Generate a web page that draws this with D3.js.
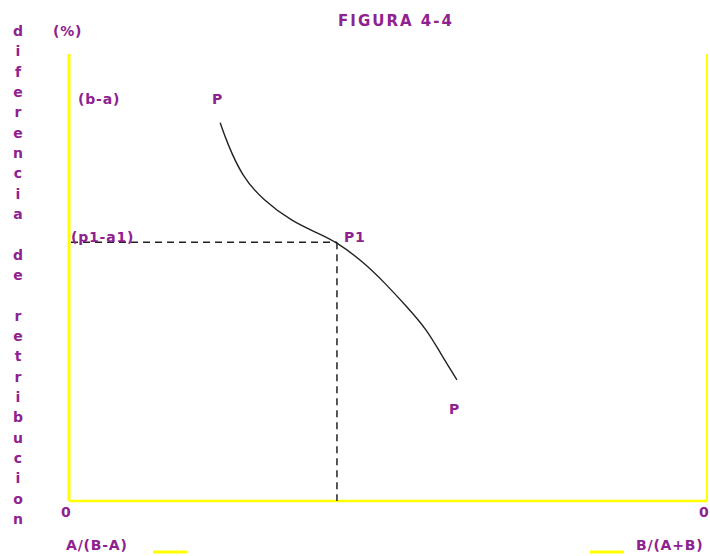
<!DOCTYPE html>
<html>
<head>
<meta charset="utf-8">
<script src="https://cdn.jsdelivr.net/npm/d3@7"></script>
<style>
  body { margin: 0; background: #fff; }
  text { font-family: "DejaVu Sans", sans-serif; fill: #8e2290; font-weight: bold; }
</style>
</head>
<body>
<script>
// Constants.
const titleText = 'FIGURA 4-4';
const yAxisWord = 'diferencia de retribucion';
const width = 710;
const height = 556;
const margin = {top: 54, left: 69, bottom: 55, right: 3};

// curve P-P (x and y in 0..100 units of the frame)
const curveX = [23.7, 24.8, 27.1, 30.4, 35.1, 38.9, 42.0, 46.1, 49.5, 53.0, 56.1, 58.2, 60.8];
const curveY = [84.6, 80.1, 72.7, 67.3, 62.4, 60.0, 57.9, 53.5, 48.8, 43.4, 38.3, 33.1, 27.1];
const p1 = [42.0, 57.9];

const svg = d3.select('body')
  .append('svg')
  .attr('width', width)
  .attr('height', height);

// Scales
const xScale = d3.scaleLinear()
  .domain([0, 100])
  .range([margin.left, width - margin.right]);
const yScale = d3.scaleLinear()
  .domain([0, 100])
  .range([height - margin.bottom, margin.top]);

// Title
svg.append('text')
  .attr('x', 396)
  .attr('y', 26)
  .attr('text-anchor', 'middle')
  .attr('font-size', '15px')
  .attr('letter-spacing', '2px')
  .text(titleText);

// vertical letters on the left
const letters = yAxisWord.split('');
svg.append('g')
  .selectAll('text')
  .data(letters)
  .enter()
  .append('text')
  .attr('x', 18)
  .attr('y', (d, i) => 32 + i * 20.33)
  .attr('text-anchor', 'middle')
  .attr('dominant-baseline', 'middle')
  .attr('font-size', '14px')
  .text(d => d);

// frame lines
svg.append('line')
  .attr('x1', xScale(0)).attr('x2', xScale(0))
  .attr('y1', yScale(100)).attr('y2', yScale(0))
  .style('stroke', '#ffff00').style('stroke-width', 3);
svg.append('line')
  .attr('x1', xScale(0)).attr('x2', xScale(100))
  .attr('y1', yScale(0)).attr('y2', yScale(0))
  .style('stroke', '#ffff00').style('stroke-width', 2.5);
svg.append('line')
  .attr('x1', xScale(100)).attr('x2', xScale(100))
  .attr('y1', yScale(100)).attr('y2', yScale(0))
  .style('stroke', '#ffff00').style('stroke-width', 2);

// dashed guides to P1
svg.append('line')
  .attr('x1', xScale(0) + 2).attr('x2', xScale(p1[0]))
  .attr('y1', yScale(p1[1])).attr('y2', yScale(p1[1]))
  .style('stroke', '#222').style('stroke-width', 1.5)
  .style('stroke-dasharray', '7,5');
svg.append('line')
  .attr('x1', xScale(p1[0])).attr('x2', xScale(p1[0]))
  .attr('y1', yScale(p1[1])).attr('y2', yScale(0))
  .style('stroke', '#222').style('stroke-width', 1.5)
  .style('stroke-dasharray', '7,5');

// curve
const pts = curveX.map((x, i) => [x, curveY[i]]);
const line = d3.line()
  .x(d => xScale(d[0]))
  .y(d => yScale(d[1]))
  .curve(d3.curveBasis);
svg.append('path')
  .datum(pts)
  .attr('d', line)
  .attr('fill', 'none')
  .style('stroke', '#222')
  .style('stroke-width', 1.4);

// labels
const labels = [
  {t: '(%)', x: 53, y: 36},
  {t: '(b-a)', x: 78, y: 104},
  {t: 'P', x: 212, y: 104},
  {t: '(p1-a1)', x: 71, y: 242},
  {t: 'P1', x: 344, y: 242},
  {t: 'P', x: 449, y: 414},
  {t: '0', x: 61, y: 517},
  {t: '0', x: 699, y: 517},
  {t: 'A/(B-A)', x: 66, y: 550},
  {t: 'B/(A+B)', x: 636, y: 550}
];
svg.append('g')
  .selectAll('text')
  .data(labels)
  .enter()
  .append('text')
  .attr('x', d => d.x)
  .attr('y', d => d.y)
  .attr('font-size', '14px')
  .attr('letter-spacing', '0.8px')
  .text(d => d.t);

// little yellow marks next to the bottom labels
svg.append('line')
  .attr('x1', 153).attr('x2', 187).attr('y1', 552).attr('y2', 552)
  .style('stroke', '#ffff00').style('stroke-width', 3);
svg.append('line')
  .attr('x1', 590).attr('x2', 624).attr('y1', 552).attr('y2', 552)
  .style('stroke', '#ffff00').style('stroke-width', 3);
</script>
</body>
</html>
